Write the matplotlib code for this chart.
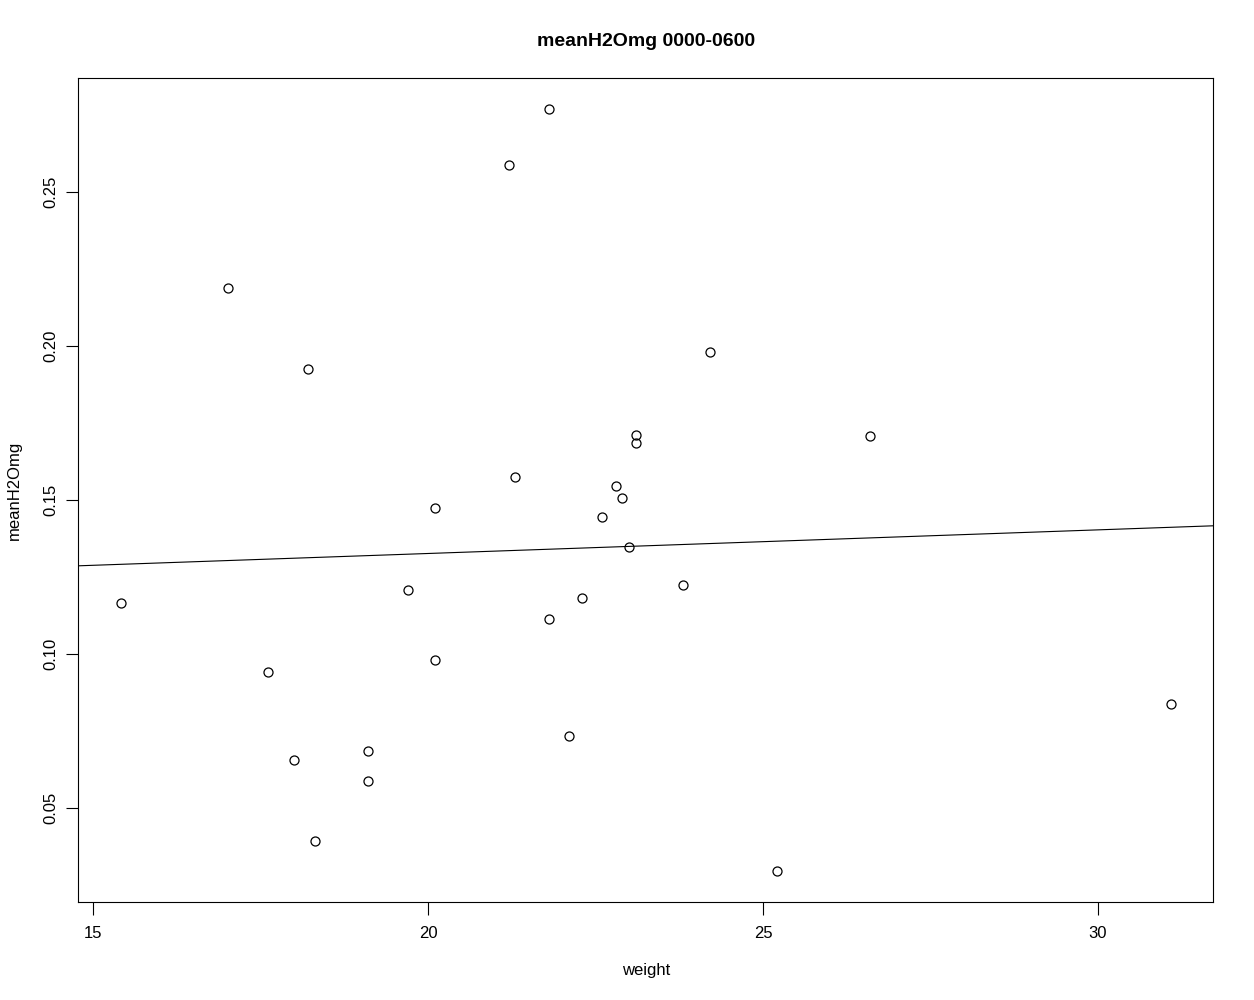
import matplotlib
matplotlib.use("Agg")
import matplotlib.pyplot as plt
import numpy as np

plt.rcParams['font.family'] = ['Liberation Sans', 'DejaVu Sans']

weight = [15.42, 17.01, 17.61, 18.00, 18.21, 18.31, 19.10, 19.10, 19.70, 20.10,
          20.10, 21.21, 21.30, 21.81, 21.81, 22.10, 22.30, 22.60, 22.81, 22.90,
          23.00, 23.10, 23.10, 23.81, 24.21, 25.21, 26.60, 31.09]
meanH2Omg = [0.1166, 0.2188, 0.0942, 0.0656, 0.1925, 0.0393, 0.0685, 0.0588, 0.1208, 0.1474,
             0.0981, 0.2588, 0.1575, 0.2769, 0.1114, 0.0734, 0.1182, 0.1445, 0.1545, 0.1506,
             0.1347, 0.1711, 0.1685, 0.1224, 0.1981, 0.0295, 0.1708, 0.0838]
fit_intercept = 0.1173
fit_slope = 0.000767
x_ticks = [15, 20, 25, 30]
y_ticks = [0.05, 0.10, 0.15, 0.20, 0.25]
y_ticklabels = ["0.05", "0.10", "0.15", "0.20", "0.25"]

W, H = 1254, 1000
fig = plt.figure(figsize=(W / 100, H / 100), dpi=100)
ax = fig.add_axes([78 / W, 1 - 902 / H, (1213 - 78) / W, (902 - 78) / H])

ax.plot(weight, meanH2Omg, linestyle='none', marker='o', markersize=6.5,
        markerfacecolor='none', markeredgecolor='black', markeredgewidth=0.9)

xlim = (14.776, 31.716)
ax.set_xlim(*xlim)
ax.set_ylim(0.0195, 0.287)
xs = np.array(xlim)
ax.plot(xs, fit_intercept + fit_slope * xs, color='black', linewidth=0.8)

ax.set_xticks(x_ticks)
ax.set_xticklabels([str(t) for t in x_ticks])
ax.set_yticks(y_ticks)
ax.set_yticklabels(y_ticklabels, rotation=90, va='center')
ax.tick_params(direction='out', length=9, width=0.8, labelsize=12)
ax.tick_params(axis='x', pad=8)
ax.tick_params(axis='y', pad=5)
for s in ax.spines.values():
    s.set_linewidth(0.8)

fig.text(646 / W, 1 - 970 / H, 'weight', ha='center', va='center', fontsize=12)
fig.text(14 / W, 1 - 490 / H, 'meanH2Omg', ha='center', va='center', fontsize=12,
         rotation=90)
fig.text(646 / W, 1 - 41 / H, 'meanH2Omg 0000-0600', ha='center', va='center',
         fontsize=14, fontweight='bold')

fig.savefig('out.png', dpi=100)
